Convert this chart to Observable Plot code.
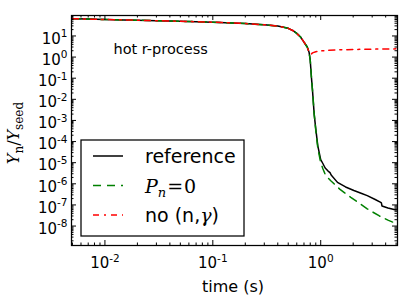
<!DOCTYPE html>
<html><head><meta charset="utf-8">
<script src="https://cdn.jsdelivr.net/npm/d3@7"></script>
<script src="https://cdn.jsdelivr.net/npm/@observablehq/plot@0.6"></script>
<style>
html,body{margin:0;padding:0;background:#fff}
#chart{width:415px;height:296px}
</style>
</head><body><div id="chart"></div>
<script>
// ---- data ----
// shared early-time part (all three runs coincide)
const commonTime  = [0.005, 0.007, 0.01, 0.015, 0.02, 0.03, 0.05, 0.07, 0.1, 0.15, 0.2, 0.3, 0.4, 0.5, 0.55, 0.6, 0.65, 0.7, 0.75, 0.78];
const commonValue = [66, 63, 60, 57.5, 55.6, 53, 49.5, 47.3, 44.7, 41.2, 38.5, 33.9, 29.5, 22.9, 18.2, 13.2, 8.9, 5.1, 3.0, 1.7];

const refTime  = [0.8, 0.82, 0.84, 0.87, 0.9, 0.94, 1.0, 1.05, 1.1, 1.17, 1.22, 1.25, 1.43, 1.7, 2.03, 2.4, 2.7, 3.2, 3.6, 3.65, 3.7, 4.2, 5.0];
const refValue = [0.69, 0.112, 0.025, 2.0e-3, 4.0e-4, 6.3e-5, 1.4e-5, 8.9e-6, 5.6e-6, 4.0e-6, 3.4e-6, 2.6e-6, 1.17e-6, 7.1e-7, 4.8e-7, 3.5e-7, 2.75e-7, 1.8e-7, 1.32e-7, 1.26e-7, 8.9e-8, 7.1e-8, 5.75e-8];

const pn0Time  = [0.8, 0.82, 0.84, 0.87, 0.9, 0.94, 1.0, 1.05, 1.11, 1.24, 1.5, 1.9, 2.3, 2.7, 3.5, 4.2, 5.0];
const pn0Value = [0.69, 0.112, 0.025, 2.0e-3, 3.5e-4, 5.0e-5, 1.0e-5, 5.0e-6, 2.5e-6, 1.4e-6, 5.6e-7, 2.3e-7, 1.17e-7, 6.5e-8, 3.0e-8, 1.9e-8, 1.32e-8];

const noNgTime  = [0.8, 0.82, 0.84, 0.9, 1.0, 1.2, 1.5, 2.0, 3.0, 5.0];
const noNgValue = [1.48, 1.41, 1.58, 1.78, 1.95, 2.09, 2.21, 2.29, 2.37, 2.45];

const seriesNames = ["reference", "Pn=0", "no (n,γ)"];

// axes
const xDomain = [0.0049, 5.15];
const yDomain = [1.2e-9, 93];
const xMajor = [0.01, 0.1, 1];
const xExp   = ["-2", "-1", "0"];
const yMajor = [1e-8, 1e-7, 1e-6, 1e-5, 1e-4, 1e-3, 1e-2, 1e-1, 1, 10];
const yExp   = ["-8", "-7", "-6", "-5", "-4", "-3", "-2", "-1", "0", "1"];
const xLabel = "time (s)";
const annotation = "hot r-process";
const annX = [0.012], annY = [2.2];

// ---- build rows ----
const rows = (t, v) => t.map((d, i) => ({t: d, v: v[i]}));
const refRows  = rows(commonTime.concat(refTime),  commonValue.concat(refValue));
const pn0Rows  = rows(commonTime.concat(pn0Time),  commonValue.concat(pn0Value));
const noNgRows = rows(commonTime.concat(noNgTime), commonValue.concat(noNgValue));

function minors(majors, dom) {
  const out = [];
  const bases = [majors[0] / 10, ...majors];
  for (const b of bases) for (let m = 2; m <= 9; m++) {
    const v = m * b;
    if (v > dom[0] && v < dom[1]) out.push(v);
  }
  return out;
}
const xMinor = minors(xMajor, xDomain);
const yMinor = minors(yMajor, yDomain);

const W = 415, H = 296, mL = 71, mR = 18, mT = 15, mB = 51;
const iw = W - mL - mR, ih = H - mT - mB;
const majL = 5, minL = 2.5;

const chart = Plot.plot({
  width: W, height: H,
  marginLeft: mL, marginRight: mR, marginTop: mT, marginBottom: mB,
  style: {fontFamily: "DejaVu Sans", background: "white", color: "black", overflow: "visible"},
  x: {type: "log", domain: xDomain},
  y: {type: "log", domain: yDomain},
  marks: [
    Plot.line(refRows,  {x: "t", y: "v", stroke: "black", strokeWidth: 1.5, clip: true}),
    Plot.line(pn0Rows,  {x: "t", y: "v", stroke: "#008000", strokeWidth: 1.5, strokeDasharray: "8,6", clip: true}),
    Plot.line(noNgRows, {x: "t", y: "v", stroke: "#ff0000", strokeWidth: 1.5, strokeDasharray: "6,5,2,5", clip: true}),
    Plot.text([annotation], {x: annX, y: annY, text: d => d, textAnchor: "start", fontSize: 14.5, fill: "black"}),
    // inward ticks on all four sides
    Plot.ruleY(yMajor, {insetRight: iw - majL, stroke: "black"}),
    Plot.ruleY(yMajor, {insetLeft: iw - majL, stroke: "black"}),
    Plot.ruleY(yMinor, {insetRight: iw - minL, stroke: "black"}),
    Plot.ruleY(yMinor, {insetLeft: iw - minL, stroke: "black"}),
    Plot.ruleX(xMajor, {insetTop: ih - majL, stroke: "black"}),
    Plot.ruleX(xMajor, {insetBottom: ih - majL, stroke: "black"}),
    Plot.ruleX(xMinor, {insetTop: ih - minL, stroke: "black"}),
    Plot.ruleX(xMinor, {insetBottom: ih - minL, stroke: "black"}),
    Plot.axisX({ticks: xMajor, tickSize: 0, tickPadding: 12, fontSize: 15, label: null,
      tickFormat: d => "10^" + xExp[xMajor.indexOf(d)]}),
    Plot.axisY({ticks: yMajor, tickSize: 0, tickPadding: 4, fontSize: 15, label: null, dy: 3,
      tickFormat: d => "10^" + yExp[yMajor.indexOf(d)]}),
    Plot.frame({stroke: "black", strokeWidth: 1.25})
  ]
});
document.getElementById("chart").appendChild(chart);

const NS = "http://www.w3.org/2000/svg";
function el(name, attrs, parent) {
  const e = document.createElementNS(NS, name);
  for (const k in attrs) e.setAttribute(k, attrs[k]);
  if (parent) parent.appendChild(e);
  return e;
}
function ts(parent, text, attrs = {}) {
  const t = el("tspan", attrs, parent);
  t.textContent = text;
  return t;
}

// superscript tick labels
chart.querySelectorAll('g[aria-label="x-axis tick label"] text, g[aria-label="y-axis tick label"] text').forEach(t => {
  const s = t.textContent;
  if (!s.includes("^")) return;
  const [b, e] = s.split("^");
  t.textContent = "";
  ts(t, b);
  ts(t, e, {"font-size": 10.5, dy: -6.5});
});

const g = el("g", {}, chart);
// x label
const xl = el("text", {x: 233, y: 291.5, "text-anchor": "middle", "font-size": 16, "font-family": "DejaVu Sans", fill: "black"}, g);
xl.textContent = xLabel;
// y label (math text)
const yl = el("text", {transform: "translate(19,133) rotate(-90)", "text-anchor": "middle", "font-size": 16, "font-family": "DejaVu Serif", fill: "black"}, g);
ts(yl, "Y", {"font-style": "italic"});
ts(yl, "n", {"font-size": 12, dy: 4});
ts(yl, "/", {dy: -4});
ts(yl, "Y", {"font-style": "italic"});
ts(yl, "seed", {"font-size": 12, dy: 4});

// legend
const lg = el("g", {"text-anchor": "start"}, g);
el("rect", {x: 81, y: 140, width: 163, height: 96, fill: "white", stroke: "black", "stroke-width": 1.25}, lg);
const styles = [
  {stroke: "black"},
  {stroke: "#008000", "stroke-dasharray": "8,6"},
  {stroke: "#ff0000", "stroke-dasharray": "6,5,2,5"}
];
const ly = [156, 185.5, 215];
styles.forEach((s, i) => {
  el("line", Object.assign({x1: 93, x2: 123, y1: ly[i], y2: ly[i], "stroke-width": 1.5}, s), lg);
});
const t1 = el("text", {x: 145, y: 163, "text-anchor": "start", "font-size": 19, "font-family": "DejaVu Sans", fill: "black"}, lg);
t1.textContent = seriesNames[0];
const t2 = el("text", {x: 145, y: 192.5, "text-anchor": "start", "font-size": 19, "font-family": "DejaVu Serif", fill: "black"}, lg);
ts(t2, "P", {"font-style": "italic"});
ts(t2, "n", {"font-style": "italic", "font-size": 13, dy: 4});
ts(t2, "=", {dy: -4, dx: 1});
ts(t2, "0", {dx: 1});
const t3 = el("text", {x: 145, y: 221.5, "text-anchor": "start", "font-size": 19, "font-family": "DejaVu Sans", fill: "black"}, lg);
ts(t3, "no (n,");
ts(t3, "γ", {"font-family": "DejaVu Serif", "font-style": "italic"});
ts(t3, ")");
</script>
</body></html>
